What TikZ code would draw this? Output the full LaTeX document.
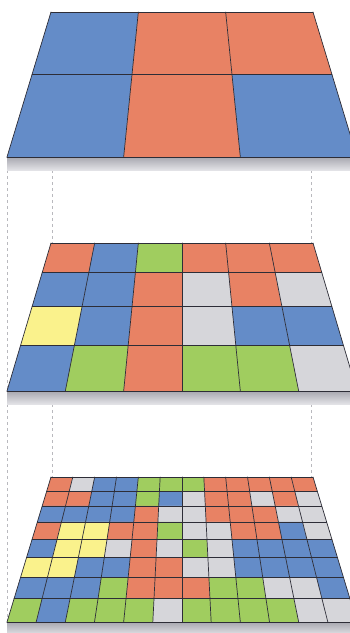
\documentclass[tikz,border=0pt]{standalone}
\definecolor{cB}{RGB}{100,140,200}
\definecolor{cO}{RGB}{232,130,100}
\definecolor{cG}{RGB}{160,205,95}
\definecolor{cW}{RGB}{214,214,218}
\definecolor{cY}{RGB}{250,242,140}
\definecolor{gridline}{RGB}{45,45,55}
\definecolor{slabtop}{RGB}{168,168,176}
\definecolor{slabbot}{RGB}{226,226,230}
\definecolor{guide}{RGB}{185,185,190}
\tikzset{
  cellline/.style={draw=gridline,line width=0.7pt,line cap=round},
  guideline/.style={draw=guide,line width=0.6pt,dash pattern=on 3pt off 3pt}
}
\newcommand\drawlayer[5]{%
  \def\LYt{#1}\def\LYb{#2}\def\LNc{#3}\def\LNr{#4}%
  \shade[top color=slabtop,bottom color=slabbot] (7,#2) rectangle (357,{#2+13});
  \foreach \row [count=\ri] in {#5} {%
    \pgfmathsetmacro\tA{(\ri-1)/\LNr}%
    \pgfmathsetmacro\tB{\ri/\LNr}%
    \pgfmathsetmacro\fA{262*\tA/(350-88*\tA)}%
    \pgfmathsetmacro\fB{262*\tB/(350-88*\tB)}%
    \pgfmathsetmacro\yA{\LYt+(\LYb-\LYt)*\fA}%
    \pgfmathsetmacro\yB{\LYt+(\LYb-\LYt)*\fB}%
    \pgfmathsetmacro\xLA{51-44*\fA}%
    \pgfmathsetmacro\xLB{51-44*\fB}%
    \pgfmathsetmacro\wA{262+88*\fA}%
    \pgfmathsetmacro\wB{262+88*\fB}%
    \foreach \cl [count=\ki] in \row {%
      \pgfmathsetmacro\uA{(\ki-1)/\LNc}%
      \pgfmathsetmacro\uB{\ki/\LNc}%
      \fill[c\cl] ({\xLA+\uA*\wA},\yA) -- ({\xLA+\uB*\wA},\yA) -- ({\xLB+\uB*\wB},\yB) -- ({\xLB+\uA*\wB},\yB) -- cycle;
    }
  }
  \foreach \k in {0,...,#3} {%
    \draw[cellline] ({51+\k/#3*262},#1) -- ({7+\k/#3*350},#2);
  }
  \foreach \r in {0,...,#4} {%
    \pgfmathsetmacro\tR{\r/#4}%
    \pgfmathsetmacro\fR{262*\tR/(350-88*\tR)}%
    \pgfmathsetmacro\yR{#1+(#2-#1)*\fR}%
    \draw[cellline] ({51-44*\fR},\yR) -- ({313+44*\fR},\yR);
  }
}
\begin{document}
\begin{tikzpicture}[x=1pt,y=-1pt]
  \useasboundingbox (0,0) rectangle (350,633);
  \clip (0,0) rectangle (350,633);
  % guide lines between layers
  \coordinate (g1a) at (52,170); \coordinate (g1b) at (52,243);
  \coordinate (g1c) at (311,170); \coordinate (g1d) at (311,243);
  \coordinate (g1e) at (7,170); \coordinate (g1f) at (7,391);
  \coordinate (g2a) at (52,404); \coordinate (g2b) at (52,477);
  \coordinate (g2c) at (311,404); \coordinate (g2d) at (311,477);
  \coordinate (g2e) at (7,404); \coordinate (g2f) at (7,622);
  \draw[guideline] (g1a) -- (g1b);
  \draw[guideline] (g1c) -- (g1d);
  \draw[guideline] (g1e) -- (g1f);
  \draw[guideline] (g2a) -- (g2b);
  \draw[guideline] (g2c) -- (g2d);
  \draw[guideline] (g2e) -- (g2f);
  % layers
  \drawlayer{12}{157}{3}{2}{{B,O,O},{B,O,B}}
  \drawlayer{243}{391}{6}{4}{{O,B,G,O,O,O},{B,B,O,W,O,W},{Y,B,O,W,B,B},{B,G,O,G,G,W}}
  \drawlayer{477}{622}{12}{8}{%
    {O,W,B,B,G,G,G,O,O,O,O,O},
    {O,O,B,B,G,B,W,O,O,W,O,W},
    {B,B,B,B,O,W,W,O,O,O,W,W},
    {O,Y,Y,O,O,G,W,W,O,O,B,W},
    {B,Y,Y,W,O,W,G,W,B,B,B,B},
    {Y,Y,B,B,O,O,W,W,B,B,B,B},
    {B,B,B,G,O,O,O,G,G,W,W,B},
    {G,B,G,G,G,W,G,G,G,G,W,W}}
\end{tikzpicture}
\end{document}
